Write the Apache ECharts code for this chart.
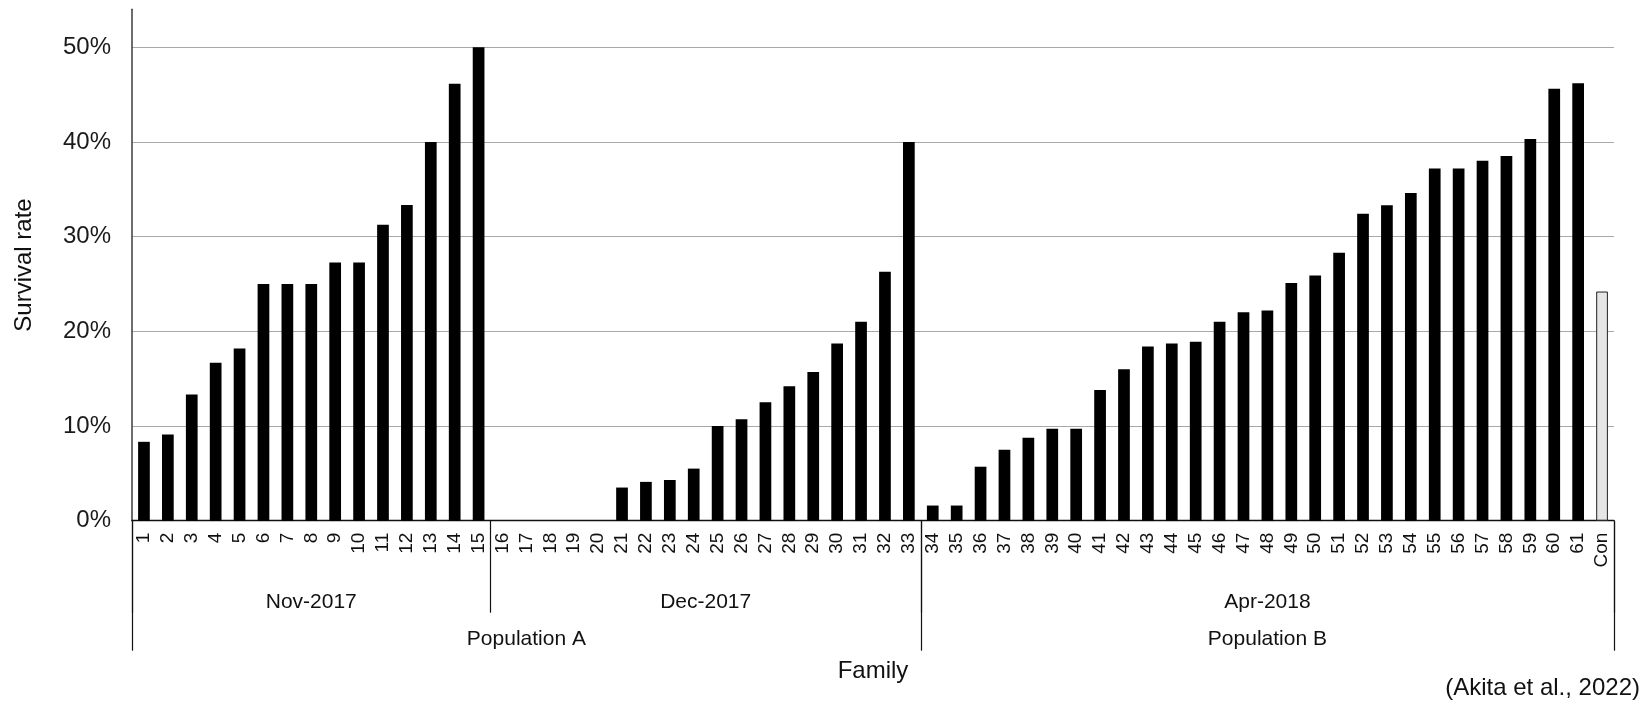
<!DOCTYPE html>
<html>
<head>
<meta charset="utf-8">
<script src="https://cdn.jsdelivr.net/npm/echarts@6/dist/echarts.min.js"></script>
<style>
  html, body { margin: 0; padding: 0; background: #fff; }
  #chart { width: 1641px; height: 703px; }
</style>
</head>
<body>
<div id="chart"></div>
<script>
// ---- Data ----
const families = ['1','2','3','4','5','6','7','8','9','10','11','12','13','14','15',
  '16','17','18','19','20','21','22','23','24','25','26','27','28','29','30','31','32','33',
  '34','35','36','37','38','39','40','41','42','43','44','45','46','47','48','49','50',
  '51','52','53','54','55','56','57','58','59','60','61','Con'];
const survivalRates = [
  0.0833, 0.0909, 0.1333, 0.1667, 0.1818, 0.25, 0.25, 0.25, 0.2727, 0.2727, 0.3125, 0.3333, 0.40, 0.4615, 0.50,
  0, 0, 0, 0, 0, 0.035, 0.041, 0.043, 0.055, 0.10, 0.107, 0.125, 0.142, 0.157, 0.187, 0.210, 0.263, 0.40,
  0.016, 0.016, 0.057, 0.075, 0.0875, 0.097, 0.097, 0.138, 0.160, 0.184, 0.187, 0.189, 0.210, 0.220, 0.222,
  0.251, 0.259, 0.283, 0.324, 0.333, 0.346, 0.372, 0.372, 0.380, 0.385, 0.403, 0.456, 0.462, 0.242
];
const controlFamily = 'Con';
const months = ['Nov-2017', 'Dec-2017', 'Apr-2018'];
const monthCounts = [15, 18, 29];
const populations = ['Population A', 'Population B'];
const populationCounts = [33, 29];
const yTicks = [0, 0.1, 0.2, 0.3, 0.4, 0.5];

// ---- Build group-level axis data ----
function buildLevel(names, counts) {
  const n = families.length;
  const band = new Array(n).fill('');
  const point = new Array(n + 1).fill('');
  const bounds = [0];
  let start = 0;
  names.forEach((name, i) => {
    const c = counts[i];
    if (c % 2 === 1) band[start + (c - 1) / 2] = name;
    else point[start + c / 2] = name;
    start += c;
    bounds.push(start);
  });
  return { band, point, bounds };
}
const monthLevel = buildLevel(months, monthCounts);
const popLevel = buildLevel(populations, populationCounts);

const FONT = 'Liberation Sans, Arial, sans-serif';
const chart = echarts.init(document.getElementById('chart'), null, { renderer: 'canvas' });

const hidden = { show: false };
function groupAxis(data, boundaryGap, margin, bounds, tickLen) {
  return {
    type: 'category',
    position: 'bottom',
    data: data,
    boundaryGap: boundaryGap,
    axisLine: hidden,
    splitLine: hidden,
    axisTick: bounds ? {
      show: true,
      length: tickLen,
      interval: (idx) => bounds.indexOf(idx) >= 0,
      lineStyle: { color: '#111', width: 1.2 }
    } : hidden,
    axisLabel: {
      interval: 0,
      margin: margin,
      fontSize: 21,
      color: '#111',
      fontFamily: FONT
    }
  };
}

const option = {
  animation: false,
  textStyle: { fontFamily: FONT },
  title: {
    text: '(Akita et al., 2022)',
    right: 1,
    top: 676,
    padding: 0,
    textStyle: { fontSize: 24, fontWeight: 'normal', color: '#111', fontFamily: FONT }
  },
  grid: {
    left: 132, right: 27, top: 9.3, bottom: 182.3,
    containLabel: false, outerBoundsMode: 'none'
  },
  yAxis: {
    type: 'value',
    min: 0,
    max: 0.54,
    interval: 0.1,
    name: 'Survival rate',
    nameLocation: 'middle',
    nameRotate: 90,
    nameGap: 96,
    nameTextStyle: { fontSize: 24, color: '#111', fontFamily: FONT },
    axisLine: { show: true, lineStyle: { color: '#3c3c3c', width: 1.5 } },
    axisTick: hidden,
    axisLabel: {
      fontSize: 24,
      color: '#1a1a1a',
      margin: 21,
      showMaxLabel: false,
      fontFamily: FONT,
      formatter: (v) => yTicks.some(t => Math.abs(t - v) < 1e-9) ? Math.round(v * 100) + '%' : ''
    },
    splitLine: {
      show: true,
      showMaxLine: false,
      lineStyle: { color: '#a8a8a8', width: 1.2 }
    }
  },
  xAxis: [
    {
      type: 'category',
      position: 'bottom',
      data: families,
      boundaryGap: true,
      name: 'Family',
      nameLocation: 'middle',
      nameGap: 139,
      nameTextStyle: { fontSize: 24, color: '#111', fontFamily: FONT },
      axisLine: { show: true, onZero: false, lineStyle: { color: '#111', width: 1.3 } },
      axisTick: hidden,
      splitLine: hidden,
      axisLabel: {
        interval: 0,
        rotate: 90,
        margin: 12,
        fontSize: 19,
        color: '#111',
        fontFamily: FONT
      }
    },
    groupAxis(monthLevel.point, false, 71, monthLevel.bounds, 92),
    groupAxis(monthLevel.band, true, 71, null, 0),
    groupAxis(popLevel.point, false, 108, popLevel.bounds, 130),
    groupAxis(popLevel.band, true, 108, null, 0)
  ],
  series: [{
    type: 'bar',
    xAxisIndex: 0,
    yAxisIndex: 0,
    barWidth: '49%',
    itemStyle: { color: '#000' },
    data: survivalRates.map((v, i) => families[i] === controlFamily
      ? { value: v, itemStyle: { color: '#e6e6e6', borderColor: '#222', borderWidth: 1 } }
      : v)
  }]
};
chart.setOption(option);
</script>
</body>
</html>
